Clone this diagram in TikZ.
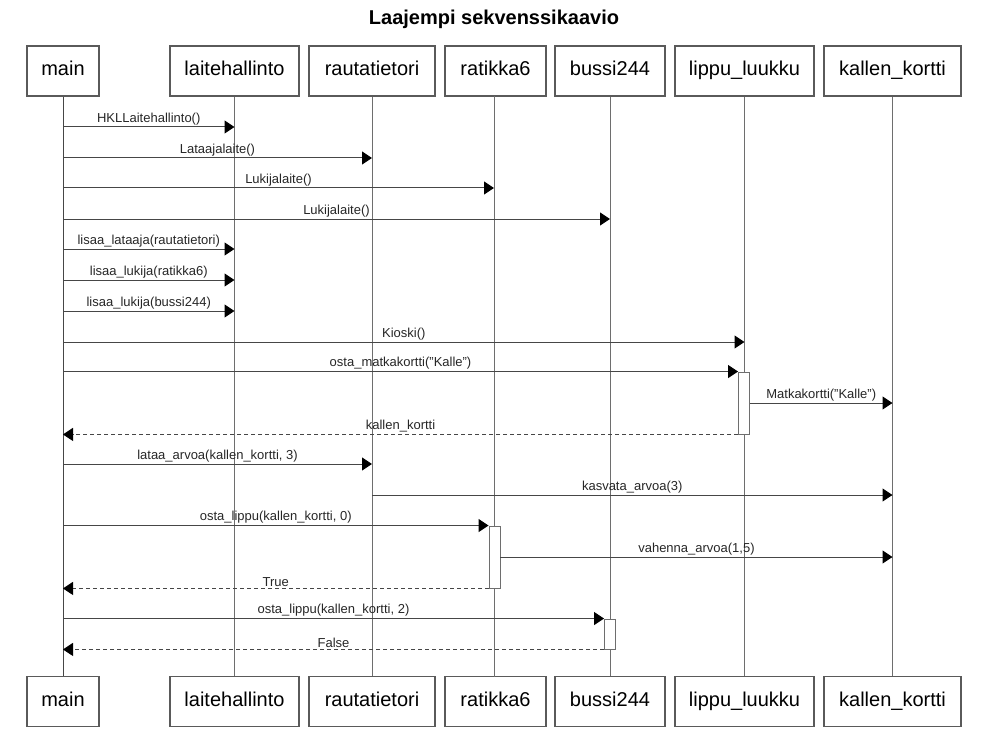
\documentclass[tikz,border=0pt]{standalone}
\usepackage{fontspec}
\setmainfont{Liberation Sans}
\usetikzlibrary{arrows.meta}

\begin{document}
\begin{tikzpicture}[x=1pt, y=-1pt,
  % ---- colours ---------------------------------------------------------
  /utils/exec={%
    \definecolor{seqline}{RGB}{ 70, 70, 70}%
    \definecolor{seqlife}{RGB}{110,110,110}%
    \definecolor{seqbox} {RGB}{ 90, 90, 90}%
  },
  % ---- styles ----------------------------------------------------------
  obj/.style={draw=seqbox, line width=1.1pt, fill=white, minimum height=50pt,
    inner sep=0pt, text height=14.5pt, text depth=4.5pt,
    font=\fontsize{20}{24}\selectfont},
  life/.style={draw=seqlife, line width=0.9pt},
  act/.style={draw=seqlife, line width=0.9pt, fill=white, inner sep=0pt,
    minimum width=11pt},
  msg/.style={draw=seqline, line width=1pt,
    -{Triangle[length=10pt,width=13pt,color=black]}},
  ret/.style={msg, dash pattern=on 4pt off 3pt},
  lbl/.style={midway, above, inner sep=1.5pt, font=\fontsize{13}{15}\selectfont,
    text=black!85},
]
\useasboundingbox (0,0) rectangle (987,738);

\node[font=\bfseries\fontsize{20}{24}\selectfont] (title) at (494,19) {Laajempi sekvenssikaavio};

% =====================================================================
%  OBJECTS, top and bottom
% =====================================================================
\node[obj, minimum width=72pt]  (t-main)  at (63,71)    {main};
\node[obj, minimum width=129pt] (t-laite) at (234.5,71) {laitehallinto};
\node[obj, minimum width=126pt] (t-rauta) at (372,71)   {rautatietori};
\node[obj, minimum width=101pt] (t-ratik) at (495.5,71) {ratikka6};
\node[obj, minimum width=110pt] (t-bussi) at (610,71)   {bussi244};
\node[obj, minimum width=139pt] (t-luukk) at (744.5,71) {lippu\_luukku};
\node[obj, minimum width=137pt] (t-kortt) at (892.5,71) {kallen\_kortti};

\node[obj, minimum width=72pt]  (b-main)  at (63,701.5)    {main};
\node[obj, minimum width=129pt] (b-laite) at (234.5,701.5) {laitehallinto};
\node[obj, minimum width=126pt] (b-rauta) at (372,701.5)   {rautatietori};
\node[obj, minimum width=101pt] (b-ratik) at (495.5,701.5) {ratikka6};
\node[obj, minimum width=110pt] (b-bussi) at (610,701.5)   {bussi244};
\node[obj, minimum width=139pt] (b-luukk) at (744.5,701.5) {lippu\_luukku};
\node[obj, minimum width=137pt] (b-kortt) at (892.5,701.5) {kallen\_kortti};

% =====================================================================
%  LIFELINES
% =====================================================================
\draw[life, draw=seqline] (t-main) -- (b-main);
\draw[life] (t-laite) -- (b-laite);
\draw[life] (t-rauta) -- (b-rauta);
\draw[life] (494,96) coordinate (l-ratik) -- (494,677);
\draw[life] (t-bussi) -- (b-bussi);
\draw[life] (t-luukk) -- (b-luukk);
\draw[life] (t-kortt) -- (b-kortt);

% activation bars
\node[act, minimum height=62pt] (a-luukk) at (744,403) {};
\node[act, minimum height=62pt] (a-ratik) at (494.5,557) {};
\node[act, minimum height=30pt] (a-bussi) at (610,634) {};

% =====================================================================
%  SET-UP CALLS
% =====================================================================
\draw[msg] (t-main |- 0,127) -- node[lbl] {HKLLaitehallinto()} (t-laite |- 0,127);
\draw[msg] (t-main |- 0,158) -- node[lbl] {Lataajalaite()} (t-rauta |- 0,158);
\draw[msg] (t-main |- 0,188) -- node[lbl] {Lukijalaite()} (l-ratik |- 0,188);
\draw[msg] (t-main |- 0,219) -- node[lbl] {Lukijalaite()} (t-bussi |- 0,219);
\draw[msg] (t-main |- 0,249) -- node[lbl] {lisaa\_lataaja(rautatietori)} (t-laite |- 0,249);
\draw[msg] (t-main |- 0,280) -- node[lbl] {lisaa\_lukija(ratikka6)} (t-laite |- 0,280);
\draw[msg] (t-main |- 0,311) -- node[lbl] {lisaa\_lukija(bussi244)} (t-laite |- 0,311);
\draw[msg] (t-main |- 0,342) -- node[lbl] {Kioski()} (t-luukk |- 0,342);

% =====================================================================
%  TICKET OFFICE AND CARD
% =====================================================================
\draw[msg] (t-main |- a-luukk.north west) -- node[lbl] {osta\_matkakortti("Kalle")} (a-luukk.north west);
\draw[msg] (a-luukk.east) -- node[lbl] {Matkakortti("Kalle")} (t-kortt |- a-luukk.east);
\draw[ret] (a-luukk.south west) -- node[lbl] {kallen\_kortti} (t-main |- a-luukk.south west);
\draw[msg] (t-main |- 0,464) -- node[lbl] {lataa\_arvoa(kallen\_kortti, 3)} (t-rauta |- 0,464);
\draw[msg] (t-rauta |- 0,495) -- node[lbl] {kasvata\_arvoa(3)} (t-kortt |- 0,495);

% =====================================================================
%  TICKETS
% =====================================================================
\draw[msg] (t-main |- a-ratik.north west) -- node[lbl] {osta\_lippu(kallen\_kortti, 0)} (a-ratik.north west);
\draw[msg] (a-ratik.east) -- node[lbl] {vahenna\_arvoa(1,5)} (t-kortt |- a-ratik.east);
\draw[ret] (a-ratik.south west) -- node[lbl] {True} (t-main |- a-ratik.south west);
\draw[msg] (t-main |- a-bussi.north west) -- node[lbl] {osta\_lippu(kallen\_kortti, 2)} (a-bussi.north west);
\draw[ret] (a-bussi.south west) -- node[lbl] {False} (t-main |- a-bussi.south west);

\end{tikzpicture}
\end{document}
